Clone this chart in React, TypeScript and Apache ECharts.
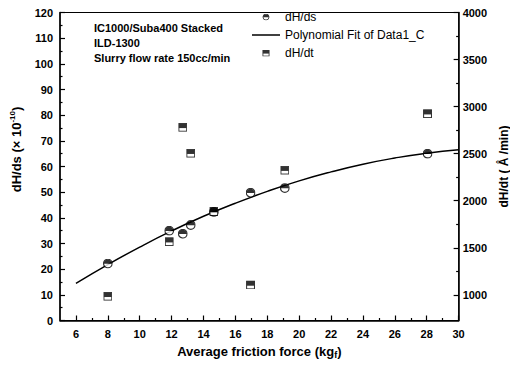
import React, { useEffect, useRef } from "react";
import * as echarts from "echarts";

// ---- data ----
const frictionForce = [8.0, 11.85, 12.7, 13.2, 14.65, 16.95, 19.1, 28.05];
const dHdsValues = [22.2, 35.0, 33.8, 37.2, 42.3, 49.8, 51.6, 65.0];
const dHdtValues = [985, 1565, 2780, 2505, 1885, 1105, 2325, 2925];
const fitForce = [6, 8, 10, 12, 14, 16, 18, 20, 22, 24, 26, 28, 30];
const fitValues = [14.5, 21.8, 28.6, 34.9, 40.6, 45.7, 50.3, 54.4, 57.9, 60.9, 63.3, 65.2, 66.5];
const xTickLabels = [6, 8, 10, 12, 14, 16, 18, 20, 22, 24, 26, 28, 30];
const xMinorTicks = [7, 9, 11, 13, 15, 17, 19, 21, 23, 25, 27, 29];
const rightTickLabels = [1000, 1500, 2000, 2500, 3000, 3500, 4000];
const rightMinorTicks = [1250, 1750, 2250, 2750, 3250, 3750];
const annotationLines = ["IC1000/Suba400 Stacked", "ILD-1300", "Slurry flow rate 150cc/min"];
const seriesNames = ["dH/ds", "Polynomial Fit of Data1_C", "dH/dt"];

const FONT = "'Liberation Sans', Arial, Helvetica, sans-serif";

const svgUrl = (body: string) =>
  "image://data:image/svg+xml;charset=utf-8," +
  encodeURIComponent(
    `<svg xmlns='http://www.w3.org/2000/svg' width='20' height='20' viewBox='0 0 20 20'>${body}</svg>`
  );

const circleSymbol = svgUrl(
  "<circle cx='10' cy='10' r='8.6' fill='#fff' stroke='#000' stroke-width='2.4'/>" +
    "<path d='M1.4 10.5A8.6 8.6 0 0 1 18.6 10.5Z' fill='#000'/>"
);
const squareSymbol = svgUrl(
  "<rect x='1.2' y='1.2' width='17.6' height='17.6' fill='#fff' stroke='#000' stroke-width='2.4'/>" +
    "<rect x='1.2' y='1.2' width='17.6' height='10.5' fill='#000'/>"
);

const RIGHT_MIN = 727.27;
const RIGHT_MAX = 4000;

export default function App() {
  const ref = useRef<HTMLDivElement>(null);

  useEffect(() => {
    if (!ref.current) return;
    const chart = echarts.init(ref.current, null, { renderer: "svg" });

    const labelStyle = {
      color: "#000",
      fontFamily: FONT,
      fontWeight: "bold" as const,
      fontSize: 11,
    };
    const titleStyle = {
      color: "#000",
      fontFamily: FONT,
      fontWeight: "bold" as const,
      fontSize: 13,
    };

    chart.setOption({
      animation: false,
      backgroundColor: "#fff",
      grid: {
        left: 60,
        right: 55,
        top: 12.5,
        bottom: 49.5,
        show: true,
        borderColor: "#000",
        borderWidth: 1,
        backgroundColor: "transparent",
      },
      legend: {
        orient: "vertical",
        left: 252,
        top: 10,
        padding: 0,
        itemWidth: 28,
        itemHeight: 7,
        itemGap: 4,
        data: [
          { name: seriesNames[0] },
          { name: seriesNames[1], icon: "path://M0,0H28V1.5H0Z", itemStyle: { color: "#000" } },
          { name: seriesNames[2] },
        ],
        textStyle: { color: "#000", fontFamily: FONT, fontSize: 12, lineHeight: 14 },
      },
      graphic: annotationLines.map((t, i) => ({
        type: "text",
        left: 94,
        top: 22 + i * 15,
        style: {
          text: t,
          fill: "#000",
          font: `bold 11px ${FONT}`,
        },
      })),
      xAxis: [
        {
          type: "value",
          min: 5,
          max: 30,
          position: "bottom",
          name: "Average friction force (kg{sub|f})",
          nameLocation: "middle",
          nameGap: 23,
          nameTextStyle: {
            ...titleStyle,
            rich: {
              sub: { ...titleStyle, fontSize: 9, padding: [7, 0, 0, 0] },
            },
          },
          axisLine: { show: true, onZero: false, lineStyle: { color: "#000", width: 1.5 } },
          axisTick: { show: true, inside: true, length: 5, customValues: xTickLabels, lineStyle: { color: "#000", width: 1.2 } },
          axisLabel: { ...labelStyle, margin: 8, customValues: xTickLabels },
          splitLine: { show: false },
        },
        {
          type: "value",
          min: 5,
          max: 30,
          position: "bottom",
          axisLine: { show: false },
          axisTick: { show: true, inside: true, length: 2.5, customValues: xMinorTicks, lineStyle: { color: "#000", width: 1.2 } },
          axisLabel: { show: false },
          splitLine: { show: false },
        },
      ],
      yAxis: [
        {
          type: "value",
          min: 0,
          max: 120,
          interval: 10,
          position: "left",
          name: "dH/ds (× 10{sup|-10})",
          nameLocation: "middle",
          nameGap: 35,
          nameTextStyle: {
            ...titleStyle,
            padding: [0, 0, 0, 34],
            rich: {
              sup: { ...titleStyle, fontSize: 8, padding: [0, 0, 9, 0] },
            },
          },
          axisLine: { show: true, onZero: false, lineStyle: { color: "#000", width: 1.5 } },
          axisTick: { show: true, inside: true, length: 5, lineStyle: { color: "#000", width: 1.2 } },
          minorTick: { show: true, splitNumber: 2, length: 2.5, lineStyle: { color: "#000", width: 1.2 } },
          axisLabel: { ...labelStyle, margin: 7 },
          splitLine: { show: false },
          minorSplitLine: { show: false },
        },
        {
          type: "value",
          min: RIGHT_MIN,
          max: RIGHT_MAX,
          position: "right",
          name: "dH/dt ( Å /min)",
          nameLocation: "middle",
          nameGap: 37,
          nameTextStyle: { ...titleStyle, fontSize: 12 },
          axisLine: { show: true, onZero: false, lineStyle: { color: "#000", width: 1.5 } },
          axisTick: { show: true, inside: true, length: 5, customValues: rightTickLabels, lineStyle: { color: "#000", width: 1.2 } },
          axisLabel: {
            ...labelStyle,
            margin: 4,
            customValues: rightTickLabels,
            formatter: (v: number) => String(Math.round(v)),
          },
          splitLine: { show: false },
        },
        {
          type: "value",
          min: RIGHT_MIN,
          max: RIGHT_MAX,
          position: "right",
          axisLine: { show: false },
          axisTick: { show: true, inside: true, length: 2.5, customValues: rightMinorTicks, lineStyle: { color: "#000", width: 1.2 } },
          axisLabel: { show: false },
          splitLine: { show: false },
        },
      ],
      series: [
        {
          name: seriesNames[1],
          type: "line",
          xAxisIndex: 0,
          yAxisIndex: 0,
          smooth: true,
          symbol: "none",
          showSymbol: false,
          lineStyle: { color: "#000", width: 1.5 },
          itemStyle: { color: "#000" },
          data: fitForce.map((x, i) => [x, fitValues[i]]),
          z: 2,
        },
        {
          name: seriesNames[0],
          type: "scatter",
          xAxisIndex: 0,
          yAxisIndex: 0,
          symbol: circleSymbol,
          symbolSize: 10,
          itemStyle: { color: "#000" },
          data: frictionForce.map((x, i) => [x, dHdsValues[i]]),
          z: 3,
        },
        {
          name: seriesNames[2],
          type: "scatter",
          xAxisIndex: 0,
          yAxisIndex: 1,
          symbol: squareSymbol,
          symbolSize: 9,
          itemStyle: { color: "#000" },
          data: frictionForce.map((x, i) => [x, dHdtValues[i]]),
          z: 4,
        },
      ],
    });

    return () => chart.dispose();
  }, []);

  return <div ref={ref} style={{ width: 518, height: 370, margin: -8 }} />;
}
